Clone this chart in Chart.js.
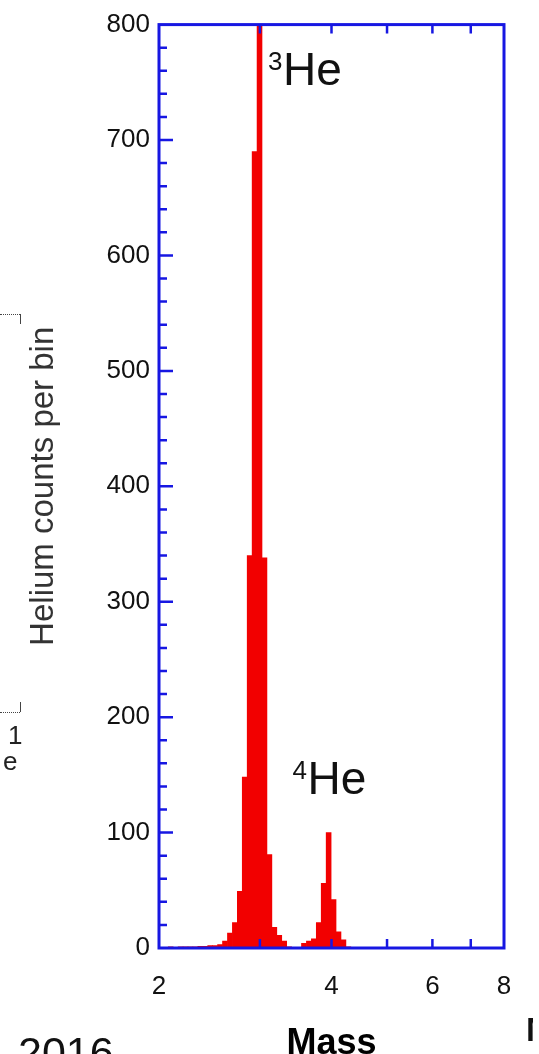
<!DOCTYPE html>
<html>
<head>
<meta charset="utf-8">
<script src="https://cdn.jsdelivr.net/npm/chart.js@4"></script>
<style>
  html, body { margin: 0; padding: 0; background: #fff; }
  body { width: 539px; height: 1054px; overflow: hidden; position: relative; font-family: "Liberation Sans", Arial, sans-serif; }
  #chart { position: absolute; left: 0; top: 0; }
  .frag { position: absolute; color: #222; white-space: nowrap; line-height: 1; }
  .bracket { position: absolute; border-top: 1px dotted #444; width: 20px; }
</style>
</head>
<body>
<canvas id="chart" width="539" height="1054"></canvas>

<!-- bits of the neighbouring panels that show at the edges -->
<div class="bracket" style="left:0; top:314px;"></div>
<div style="position:absolute; left:20px; top:314px; width:1px; height:10px; background:#444;"></div>
<div class="bracket" style="left:0; top:712px;"></div>
<div style="position:absolute; left:20px; top:702px; width:1px; height:10px; background:#444;"></div>
<div class="frag" style="left:8px; top:722px; font-size:26px;">1</div>
<div class="frag" style="left:3px; top:748px; font-size:26px;">e</div>
<div class="frag" style="left:18px; top:1031px; font-size:43px; color:#111;">2016</div>
<div style="position:absolute; left:520px; top:1010px; width:13px; height:40px; overflow:hidden;">
  <div class="frag" style="left:6px; top:2px; font-size:34px; font-weight:bold; color:#111;">M</div>
</div>

<script>
// bin centres (mass, log-spaced bins) and counts
const massBins = [
  2.0147, 2.0551, 2.0963, 2.1382, 2.1811, 2.2248, 2.2693, 2.3148, 2.3611, 2.4084,
  2.4567, 2.5059, 2.5560, 2.6072, 2.6595, 2.7127, 2.7671, 2.8225, 2.8790, 2.9367,
  2.9955, 3.0555, 3.1167, 3.1791, 3.2428, 3.3078, 3.3740, 3.4416, 3.5106, 3.5809,
  3.6526, 3.7258, 3.8004, 3.8765, 3.9542, 4.0334, 4.1142, 4.1966, 4.2807, 4.3664
];
const heliumCounts = [
  0, 0, 1, 0.5, 1, 1, 1, 1, 1.5, 1.5,
  2, 2, 3, 6, 13, 22, 49, 148, 340, 690,
  950, 338, 81, 18, 11, 6, 1, 0, 0, 4,
  6, 8, 22, 56, 100, 42, 14, 7, 1, 0
];

const xTickValues = [2, 3, 4, 5, 6, 7, 8];
const xTickLabels = [2, 4, 6, 8];
const yMin = 0, yMax = 800, yMajorStep = 100, yMinorStep = 20;

const peakLabels = [
  { sup: '3', text: 'He', mass: 3.10, count: 748 },
  { sup: '4', text: 'He', mass: 3.42, count: 133 }
];

const axisBlue = '#1717e2';
const barRed = '#f20000';
const fontFamily = '"Liberation Sans", Arial, Helvetica, sans-serif';

// frame, inward tick marks and the peak labels
const framePlugin = {
  id: 'frame',
  afterDatasetsDraw(chart) {
    const { ctx, chartArea: a, scales: { x, y } } = chart;
    ctx.save();
    ctx.strokeStyle = axisBlue;
    ctx.lineWidth = 2.5;
    ctx.beginPath();
    for (let v = yMin + yMinorStep; v < yMax; v += yMinorStep) {
      const py = y.getPixelForValue(v);
      const len = v % yMajorStep === 0 ? 14 : 8;
      ctx.moveTo(a.left, py);
      ctx.lineTo(a.left + len, py);
    }
    xTickValues.slice(1, -1).forEach(v => {
      const px = x.getPixelForValue(v);
      ctx.moveTo(px, a.bottom);
      ctx.lineTo(px, a.bottom - 9);
      ctx.moveTo(px, a.top);
      ctx.lineTo(px, a.top + 9);
    });
    ctx.stroke();
    ctx.lineWidth = 3;
    ctx.strokeRect(a.left, a.top, a.right - a.left, a.bottom - a.top);

    ctx.fillStyle = '#111';
    ctx.textBaseline = 'alphabetic';
    ctx.textAlign = 'left';
    peakLabels.forEach(l => {
      const px = x.getPixelForValue(l.mass);
      const py = y.getPixelForValue(l.count);
      ctx.font = '26px ' + fontFamily;
      ctx.fillText(l.sup, px, py - 15);
      ctx.font = '46px ' + fontFamily;
      ctx.fillText(l.text, px + 15, py);
    });
    ctx.restore();
  }
};

const ctx = document.getElementById('chart').getContext('2d');
new Chart(ctx, {
  type: 'bar',
  data: {
    datasets: [{
      label: 'Helium counts per bin',
      data: massBins.map((m, i) => ({ x: m, y: heliumCounts[i] })),
      backgroundColor: barRed,
      borderWidth: 0,
      barPercentage: 1,
      categoryPercentage: 1
    }]
  },
  options: {
    responsive: false,
    animation: false,
    layout: { padding: { left: 0, right: 35, top: 15, bottom: 0 } },
    plugins: { legend: { display: false }, tooltip: { enabled: false } },
    scales: {
      x: {
        type: 'logarithmic',
        min: 2,
        max: 8,
        offset: false,
        grid: { display: false, drawTicks: false },
        border: { display: false },
        afterBuildTicks: scale => { scale.ticks = xTickValues.map(v => ({ value: v })); },
        afterFit: scale => { scale.height = 106; },
        ticks: {
          autoSkip: false,
          maxRotation: 0,
          padding: 23,
          color: '#111',
          font: { family: fontFamily, size: 26 },
          callback: v => xTickLabels.includes(v) ? String(v) : ''
        },
        title: {
          display: true,
          text: 'Mass',
          color: '#000',
          padding: { top: 0, bottom: -8 },
          font: { family: fontFamily, size: 36, weight: 'bold', lineHeight: 1 }
        }
      },
      y: {
        min: yMin,
        max: yMax,
        grid: { display: false, drawTicks: false },
        border: { display: false },
        afterFit: scale => { scale.width = 159; },
        ticks: {
          stepSize: yMajorStep,
          padding: 9,
          color: '#111',
          font: { family: fontFamily, size: 26 }
        },
        title: {
          display: true,
          text: 'Helium counts per bin',
          color: '#333',
          padding: { top: 24, bottom: 0 },
          font: { family: fontFamily, size: 33 }
        }
      }
    }
  },
  plugins: [framePlugin]
});
</script>
</body>
</html>
